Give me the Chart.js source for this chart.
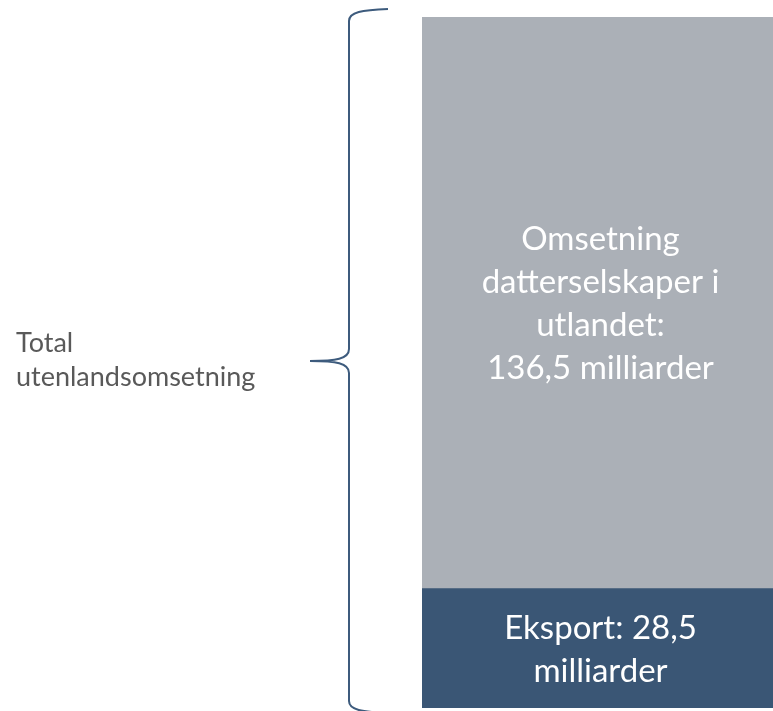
<!DOCTYPE html>
<html><head><meta charset="utf-8">
<script src="https://cdn.jsdelivr.net/npm/chart.js@4"></script>
<style>html,body{margin:0;padding:0;background:#fff}#wrap{width:773px;height:711px;position:relative}</style>
</head><body><div id="wrap"><canvas id="c"></canvas></div>
<script>
// ---- data ----
const categories = ['Utenlandsomsetning'];
const eksport = [28.5];
const datterselskaper = [136.5];
const seriesNames = ['Eksport', 'Omsetning datterselskaper i utlandet'];
const eksportLabel = ['Eksport: 28,5', 'milliarder'];
const datterLabel = ['Omsetning', 'datterselskaper i', 'utlandet:', '136,5 milliarder'];
const braceLabel = ['Total', 'utenlandsomsetning'];
const total = eksport[0] + datterselskaper[0];

const FONT = 'Lato, "Open Sans", sans-serif';
const segLabels = [eksportLabel, datterLabel];

const segmentText = {
  id: 'segmentText',
  afterDatasetsDraw(chart) {
    const ctx = chart.ctx;
    ctx.save();
    ctx.fillStyle = '#ffffff';
    ctx.font = '33px ' + FONT;
    ctx.textAlign = 'center';
    ctx.textBaseline = 'alphabetic';
    chart.data.datasets.forEach((ds, i) => {
      const el = chart.getDatasetMeta(i).data[0];
      const cx = el.x + 3;
      const cy = (el.y + el.base) / 2;
      const lines = segLabels[i];
      const lh = 43;
      const start = cy - (lines.length - 1) * lh / 2 + 12;
      lines.forEach((t, k) => ctx.fillText(t, cx, start + k * lh));
    });
    ctx.restore();
  }
};

const brace = {
  id: 'brace',
  afterDraw(chart) {
    const ctx = chart.ctx;
    const y = chart.scales.y;
    const top = y.getPixelForValue(total) - 8;
    const bot = y.getPixelForValue(0) + 5;
    const mid = (top + bot) / 2;
    const xl = 349, tip = 310, xe = 388;
    ctx.save();
    ctx.strokeStyle = '#3d5b7d';
    ctx.lineWidth = 2;
    ctx.beginPath();
    ctx.moveTo(xe, top);
    ctx.bezierCurveTo(362, top + 1, xl, top + 3, xl, top + 12);
    ctx.lineTo(xl, mid - 12);
    ctx.bezierCurveTo(xl, mid - 2, 336, mid, tip, mid);
    ctx.bezierCurveTo(336, mid, xl, mid + 2, xl, mid + 12);
    ctx.lineTo(xl, bot - 12);
    ctx.bezierCurveTo(xl, bot - 3, 362, bot - 1, xe, bot);
    ctx.stroke();
    ctx.fillStyle = '#595959';
    ctx.font = '27px ' + FONT;
    ctx.textAlign = 'left';
    ctx.textBaseline = 'alphabetic';
    ctx.fillText(braceLabel[0], 16, mid - 9);
    ctx.fillText(braceLabel[1], 16, mid + 25);
    ctx.restore();
  }
};

new Chart(document.getElementById('c'), {
  type: 'bar',
  data: {
    labels: categories,
    datasets: [
      { label: seriesNames[0], data: eksport, backgroundColor: '#3a5675', borderWidth: 0 },
      { label: seriesNames[1], data: datterselskaper, backgroundColor: '#abb0b7', borderWidth: 0 }
    ]
  },
  options: {
    responsive: true,
    maintainAspectRatio: false,
    animation: false,
    layout: { padding: { left: 422, right: 0, top: 17, bottom: 3 } },
    datasets: { bar: { barPercentage: 1, categoryPercentage: 1 } },
    scales: {
      x: { stacked: true, display: false },
      y: { stacked: true, display: false, min: 0, max: total }
    },
    plugins: { legend: { display: false }, tooltip: { enabled: false } }
  },
  plugins: [segmentText, brace]
});
</script>
</body></html>
